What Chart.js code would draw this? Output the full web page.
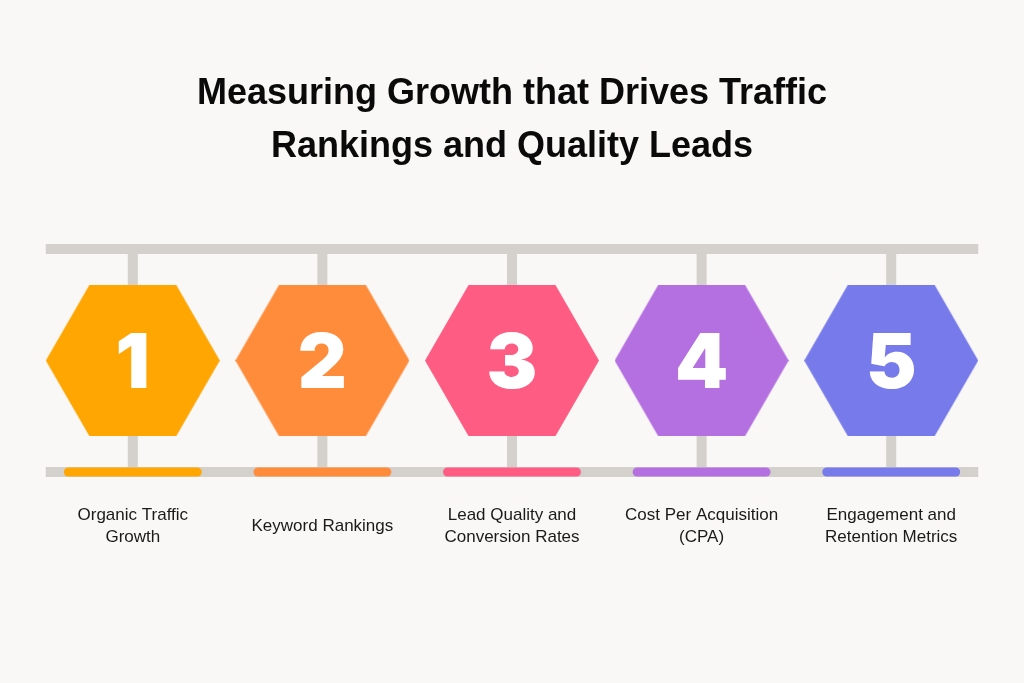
<!DOCTYPE html>
<html><head><meta charset="utf-8">
<script src="https://cdn.jsdelivr.net/npm/chart.js@4.4.1/dist/chart.umd.min.js"></script>
<style>html,body{margin:0;padding:0;background:#F9F8F6;overflow:hidden}#wrap{width:1024px;height:683px;position:relative}</style>
</head><body><div id="wrap"><canvas id="c"></canvas></div>
<script>
// ---- data ----
const titleLines = ['Measuring Growth that Drives Traffic', 'Rankings and Quality Leads'];
const categories = [
  ['Organic Traffic', 'Growth'],
  ['Keyword Rankings'],
  ['Lead Quality and', 'Conversion Rates'],
  ['Cost Per Acquisition', '(CPA)'],
  ['Engagement and', 'Retention Metrics']
];
const stepNumbers = ['1', '2', '3', '4', '5'];
const stepColors = ['#FFA602', '#FF8C3B', '#FF5C84', '#B46FE0', '#777AEA'];

// ---- styles ----
const BG = '#F9F8F6';
const RAIL = '#D4D1CC';
const HEX_R = 87;            // px, hexagon circumradius
const HEX_HALF = 0.459;      // rail overhang in category units
const BAR_HALF = 0.34;       // coloured bar half-length in category units
const TOP_LEVEL = 1, BOTTOM_LEVEL = 0, HEX_LEVEL = 0.5;

function hexCanvas(color) {
  const w = HEX_R * 2, h = Math.round(HEX_R * Math.sqrt(3));
  const cv = document.createElement('canvas');
  cv.width = w; cv.height = h;
  const ctx = cv.getContext('2d');
  const cx = w / 2, cy = h / 2;
  ctx.beginPath();
  for (let k = 0; k < 6; k++) {
    const a = Math.PI / 3 * k;
    const px = cx + HEX_R * Math.cos(a), py = cy + (h / 2) * Math.sin(a) / Math.sin(Math.PI / 3);
    k ? ctx.lineTo(px, py) : ctx.moveTo(px, py);
  }
  ctx.closePath();
  ctx.fillStyle = color;
  ctx.fill();
  return cv;
}
const hexImages = stepColors.map(hexCanvas);

const n = categories.length;
const lineBase = { type: 'line', pointRadius: 0, clip: false, fill: false, tension: 0 };

const datasets = [];
// hexagons (drawn on top)
datasets.push({
  type: 'scatter',
  data: categories.map((c, i) => ({ x: i, y: HEX_LEVEL })),
  pointStyle: hexImages,
  pointRadius: 10,
  clip: false
});
// coloured bars
categories.forEach((c, i) => datasets.push(Object.assign({}, lineBase, {
  data: [{ x: i - BAR_HALF, y: BOTTOM_LEVEL }, { x: i + BAR_HALF, y: BOTTOM_LEVEL }],
  borderColor: stepColors[i], borderWidth: 9, borderCapStyle: 'round'
})));
// rails
[TOP_LEVEL, BOTTOM_LEVEL].forEach(lv => datasets.push(Object.assign({}, lineBase, {
  data: [{ x: -HEX_HALF, y: lv }, { x: n - 1 + HEX_HALF, y: lv }],
  borderColor: RAIL, borderWidth: 10, borderCapStyle: 'butt'
})));
// stems
categories.forEach((c, i) => datasets.push(Object.assign({}, lineBase, {
  data: [{ x: i, y: BOTTOM_LEVEL }, { x: i, y: TOP_LEVEL }],
  borderColor: RAIL, borderWidth: 10, borderCapStyle: 'butt'
})));

const bgPlugin = {
  id: 'bg',
  beforeDraw(chart) {
    const { ctx, width, height } = chart;
    ctx.save(); ctx.fillStyle = BG; ctx.fillRect(0, 0, width, height); ctx.restore();
  }
};
const numberPlugin = {
  id: 'numbers',
  afterDatasetsDraw(chart) {
    const meta = chart.getDatasetMeta(0);
    const ctx = chart.ctx;
    ctx.save();
    ctx.fillStyle = '#FFFFFF';
    ctx.font = '900 76px Inter, "Noto Sans", sans-serif';
    ctx.textAlign = 'center';
    ctx.textBaseline = 'alphabetic';
    meta.data.forEach((pt, i) => ctx.fillText(stepNumbers[i], pt.x, pt.y + 27));
    ctx.restore();
  }
};

new Chart(document.getElementById('c'), {
  type: 'scatter',
  data: { datasets },
  options: {
    responsive: true,
    maintainAspectRatio: false,
    animation: false,
    events: [],
    layout: { padding: { top: 0, bottom: 81, left: 38, right: 38 } },
    plugins: {
      legend: { display: false },
      tooltip: { enabled: false },
      title: {
        display: true,
        text: titleLines,
        color: '#0A0A0A',
        font: { family: '"Liberation Sans", Arial, sans-serif', size: 36, weight: 'bold', lineHeight: 1.46 },
        padding: { top: 68, bottom: 76 }
      }
    },
    scales: {
      x: {
        type: 'linear', min: -0.5, max: n - 0.5,
        grid: { display: false, drawTicks: false },
        border: { display: false },
        afterBuildTicks: s => { s.ticks = categories.map((c, i) => ({ value: i })); },
        ticks: {
          padding: 43,
          autoSkip: false, maxRotation: 0, minRotation: 0,
          crossAlign: 'center',
          color: '#1A1A1A',
          font: { family: '"Liberation Sans", Arial, sans-serif', size: 17, lineHeight: 22 / 17 },
          callback: v => categories[v]
        }
      },
      y: { type: 'linear', min: 0, max: 1, display: false }
    }
  },
  plugins: [bgPlugin, numberPlugin]
});
</script></body></html>
